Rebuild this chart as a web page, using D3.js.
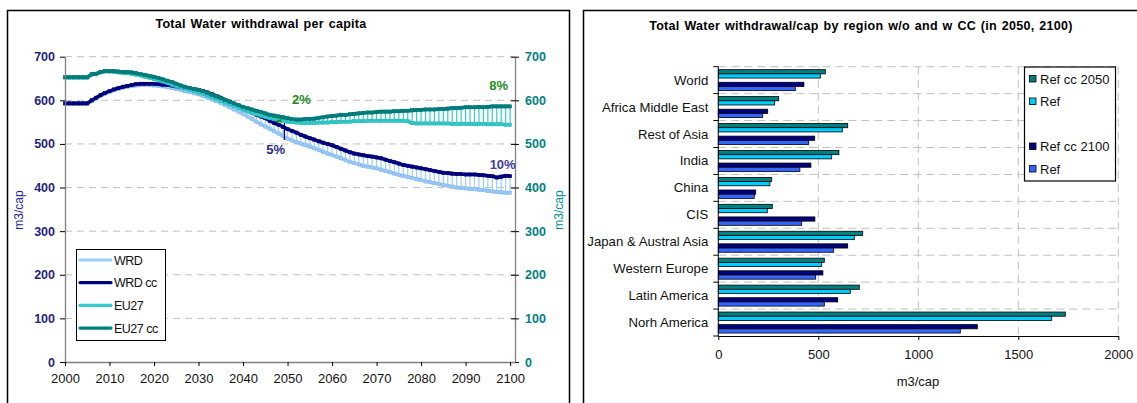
<!DOCTYPE html>
<html><head><meta charset="utf-8">
<script src="https://cdn.jsdelivr.net/npm/d3@7/dist/d3.min.js"></script>
<style>
body{margin:0;background:#fff;}
svg{display:block;font-family:"Liberation Sans",Arial,sans-serif;}
</style></head>
<body>
<svg id="chart" width="1137" height="403"></svg>
<script>
// ---------- Left chart data ----------
const years = d3.range(2000, 2101);
const wrd = [
592,592,592,592,592,592,598,604,610,615,
619,623,626,629,631,633,634,635,635,635,
634,633,632,630,628,626,624,621,619,616,
614,610,606,602,598,594,589,584,579,574,
569,563,557,551,545,540,535,529,524,518,
512,508,504,501,497,494,490,486,482,478,
475,471,467,463,459,456,453,450,448,446,
444,441,438,435,432,429,427,424,422,419,
417,414,412,410,408,406,404,402,400,399,
398,397,396,395,394,392,391,390,389,388,
388];
const wrdCC = [
593,593,593,593,593,593,600,606,612,617,
621,625,628,631,633,635,637,638,638,638,
638,637,636,635,634,632,630,629,627,626,
624,621,618,614,610,606,601,597,592,586,
581,576,572,567,563,559,553,548,544,539,
534,530,526,521,517,513,510,506,503,500,
497,493,489,485,481,478,476,474,472,471,
469,467,464,461,458,455,452,450,448,446,
444,442,440,438,436,434,433,432,431,431,
430,430,430,429,428,427,426,423,425,427,
426];
const eu27 = [
652,652,652,652,652,652,659,660,664,666,
666,665,664,663,662,661,659,657,654,652,
649,646,643,640,636,633,630,627,624,621,
618,615,611,607,603,599,595,591,587,583,
579,575,572,568,565,562,559,557,555,553,
551,550,549,548,548,548,548,549,549,549,
550,550,551,551,551,552,552,552,553,553,
553,553,553,553,553,553,553,552,548,547,
547,547,547,547,547,547,547,546,546,546,
546,546,545,546,546,545,545,545,545,544,
544];
const eu27CC = [
653,653,653,653,653,653,660,661,665,667,
667,667,666,665,665,664,662,660,658,656,
654,651,648,645,642,638,634,631,628,626,
624,621,617,613,609,605,601,597,593,589,
585,582,579,576,573,570,567,565,563,561,
559,557,556,556,557,557,558,560,561,563,
564,565,567,566,568,569,570,571,572,572,
573,574,574,574,575,575,576,576,577,578,
578,579,579,579,580,580,581,582,582,583,
584,584,584,585,584,585,586,586,586,586,
586];
const leftTicksY = [0,100,200,300,400,500,600,700];
const leftTicksX = [2000,2010,2020,2030,2040,2050,2060,2070,2080,2090,2100];
const lineSeries = [
  {name:"WRD", values:wrd, color:"#99CCFF"},
  {name:"WRD cc", values:wrdCC, color:"#000080"},
  {name:"EU27", values:eu27, color:"#33CCCC"},
  {name:"EU27 cc", values:eu27CC, color:"#008080"}
];
const annotations = [
  {text:"5%", year:2045.2, value:477, color:"#2a2a8c"},
  {text:"2%", year:2051.0, value:591, color:"#1e8c1e"},
  {text:"8%", year:2095.3, value:624, color:"#1e8c1e"},
  {text:"10%", year:2095.4, value:443, color:"#3d3da0"}
];

// ---------- Right chart data ----------
const regions = ["World","Africa Middle East","Rest of Asia","India","China","CIS","Japan & Austral Asia","Western Europe","Latin America","Norh America"];
const refCC2050 = [535,302,647,603,267,270,722,530,705,1735];
const ref2050   = [510,282,620,567,258,245,680,517,660,1667];
const refCC2100 = [428,247,482,463,187,483,647,523,597,1295];
const ref2100   = [385,222,452,408,180,417,577,487,530,1210];
const rightTicksX = [0,500,1000,1500,2000];
const barSeries = [
  {key:"cc2050", label:"Ref cc 2050", values:refCC2050, color:"#008080"},
  {key:"ref2050", label:"Ref", values:ref2050, color:"#00CCFF"},
  {key:"gap", label:"", values:null, color:null},
  {key:"cc2100", label:"Ref cc 2100", values:refCC2100, color:"#000080"},
  {key:"ref2100", label:"Ref", values:ref2100, color:"#3366FF"}
];

const svg = d3.select("#chart");
const FONT = '"Liberation Sans",Arial,sans-serif';

// ================= LEFT CHART =================
svg.append("rect").attr("x",7.5).attr("y",10.5).attr("width",562).attr("height",420)
  .attr("fill","#fff").attr("stroke","#000").attr("stroke-width",1.5);

const L = {left:65, right:515, top:56.7, bottom:362};
const x = d3.scaleLinear().domain([2000,2101.1]).range([L.left, L.right]);
const y = d3.scaleLinear().domain([0,700]).range([L.bottom, L.top]);
const gL = svg.append("g");

// gridlines
gL.append("g").selectAll("line").data(leftTicksY.filter(d=>d>0)).join("line")
  .attr("x1",L.left).attr("x2",L.right).attr("y1",d=>y(d)).attr("y2",d=>y(d))
  .attr("stroke","#c0c0c0").attr("stroke-dasharray","7,5").attr("stroke-width",1);

// drop lines
function drops(a,b,color){
  gL.append("g").selectAll("line").data(years).join("line")
    .attr("x1",(d)=>x(d)).attr("x2",(d)=>x(d))
    .attr("y1",(d,i)=>y(a[i])).attr("y2",(d,i)=>y(b[i]))
    .attr("stroke",color).attr("stroke-width",1.2);
}
drops(wrd, wrdCC, "#99CCFF");
drops(eu27, eu27CC, "#33CCCC");

const line = d3.line().x((d,i)=>x(years[i])).y(d=>y(d));
lineSeries.forEach(s=>{
  gL.append("path").attr("d",line(s.values)).attr("fill","none")
    .attr("stroke",s.color).attr("stroke-width",3.6).attr("stroke-linejoin","round");
  gL.append("g").selectAll("rect").data(s.values).join("rect")
    .attr("x",(d,i)=>x(years[i])-1.6).attr("y",d=>y(d)-1.6).attr("width",3.2).attr("height",3.2)
    .attr("fill",s.color).attr("stroke",d3.color(s.color).darker(0.4)).attr("stroke-width",0.5);
});

// 2049 marker line
gL.append("line").attr("x1",x(2049.3)).attr("x2",x(2049.3)).attr("y1",y(548)).attr("y2",y(509))
  .attr("stroke","#000080").attr("stroke-width",1.3);
gL.append("path").attr("d",`M${x(2047)},${y(551)} L${x(2048.6)},${y(557)} L${x(2048.6)},${y(549)} Z`)
  .attr("fill","#1e8c1e");

// axes
const axL = d3.axisLeft(y).tickValues(leftTicksY).tickSize(5).tickSizeOuter(0).tickPadding(5);
const gAxL = gL.append("g").attr("transform",`translate(${L.left},0)`).call(axL);
gAxL.select(".domain").attr("stroke","#808080").attr("stroke-width",1.3);
gAxL.selectAll(".tick line").attr("stroke","#000");
gAxL.selectAll("text").attr("font-family",FONT).attr("font-size",12.5).attr("font-weight","bold").attr("fill","#1f1f80");

const axR = d3.axisRight(y).tickValues(leftTicksY).tickSize(4).tickSizeOuter(0).tickPadding(6);
const gAxR = gL.append("g").attr("transform",`translate(${L.right},0)`).call(axR);
gAxR.select(".domain").attr("stroke","#808080").attr("stroke-width",1.3);
gAxR.selectAll(".tick line").attr("stroke","#000").attr("x1",-4);
gAxR.selectAll("text").attr("font-family",FONT).attr("font-size",12.5).attr("font-weight","bold").attr("fill","#008080");

const axB = d3.axisBottom(x).tickValues(leftTicksX).tickFormat(d3.format("d")).tickSize(4).tickSizeOuter(0).tickPadding(8);
const gAxB = gL.append("g").attr("transform",`translate(0,${L.bottom})`).call(axB);
gAxB.select(".domain").attr("stroke","#808080").attr("stroke-width",1.3);
gAxB.selectAll(".tick line").attr("stroke","#000");
gAxB.selectAll("text").attr("font-family",FONT).attr("font-size",13).attr("fill","#111");

// axis titles
gL.append("text").attr("transform",`translate(23,210) rotate(-90)`).attr("text-anchor","middle")
  .attr("font-size",12).attr("fill","#1f1f99").text("m3/cap");
gL.append("text").attr("transform",`translate(563,210) rotate(-90)`).attr("text-anchor","middle")
  .attr("font-size",12).attr("fill","#009090").text("m3/cap");

// title
gL.append("text").attr("x",261).attr("y",28).attr("text-anchor","middle")
  .attr("font-size",12.5).attr("font-weight","bold").attr("fill","#000").attr("word-spacing",1).attr("letter-spacing",0.3)
  .text("Total Water withdrawal per capita");

// annotations
annotations.forEach(a=>{
  gL.append("text").attr("x",x(a.year)).attr("y",y(a.value)).attr("font-size",13).attr("font-weight","bold")
    .attr("fill",a.color).text(a.text);
});

// legend
const lg = gL.append("g");
lg.append("rect").attr("x",76.5).attr("y",249.5).attr("width",89).attr("height",91)
  .attr("fill","#fff").attr("stroke","#000").attr("stroke-width",1);
lineSeries.forEach((s,i)=>{
  const yy = 260 + i*22.7;
  lg.append("line").attr("x1",80).attr("x2",111).attr("y1",yy).attr("y2",yy)
    .attr("stroke",s.color).attr("stroke-width",3.2).attr("stroke-linecap","round");
  lg.append("text").attr("x",114).attr("y",yy+4.5).attr("font-size",12.5).attr("fill","#111")
    .attr("letter-spacing",-0.5).text(s.name);
});

// ================= RIGHT CHART =================
svg.append("rect").attr("x",583.5).attr("y",10.5).attr("width",600).attr("height",420)
  .attr("fill","#fff").attr("stroke","#000").attr("stroke-width",1.5);

const R = {left:718.3, right:1118.3, top:66.7, bottom:336};
const xr = d3.scaleLinear().domain([0,2000]).range([R.left,R.right]);
const yb = d3.scaleBand().domain(regions).range([R.top,R.bottom]).paddingInner(0.22).paddingOuter(0.11);
const ysub = d3.scaleBand().domain(barSeries.map(s=>s.key)).range([0,yb.bandwidth()]).padding(0);
const gR = svg.append("g");

// gridlines
const step = yb.step();
const bounds = d3.range(1,regions.length).map(i=>R.top + i*step);
gR.append("g").selectAll("line").data([R.top].concat(bounds)).join("line")
  .attr("x1",R.left).attr("x2",R.right).attr("y1",d=>d).attr("y2",d=>d)
  .attr("stroke","#c0c0c0").attr("stroke-dasharray","8,5");
gR.append("g").selectAll("line").data(rightTicksX.filter(d=>d>0)).join("line")
  .attr("x1",d=>xr(d)).attr("x2",d=>xr(d)).attr("y1",R.top).attr("y2",R.bottom)
  .attr("stroke","#c0c0c0").attr("stroke-dasharray","8,5");

// bars
barSeries.filter(s=>s.values).forEach(s=>{
  gR.append("g").selectAll("rect").data(regions).join("rect")
    .attr("x",xr(0)).attr("y",(d)=>yb(d)+ysub(s.key))
    .attr("width",(d,i)=>xr(s.values[i])-xr(0)).attr("height",ysub.bandwidth())
    .attr("fill",s.color).attr("stroke","#000").attr("stroke-width",0.8);
});

// axes
const ayR = gR.append("g").attr("transform",`translate(${R.left},0)`);
ayR.append("line").attr("x1",0).attr("x2",0).attr("y1",R.top).attr("y2",R.bottom).attr("stroke","#000").attr("stroke-width",1);
ayR.selectAll("line.tk").data([R.top].concat(bounds,[R.bottom])).join("line").attr("class","tk")
  .attr("x1",-5).attr("x2",0).attr("y1",d=>d).attr("y2",d=>d).attr("stroke","#000");
ayR.selectAll("text").data(regions).join("text")
  .attr("x",-10).attr("y",d=>yb(d)+yb.bandwidth()/2+4.5).attr("text-anchor","end")
  .attr("font-size",13.2).attr("fill","#111").text(d=>d);

const axRB = d3.axisBottom(xr).tickValues(rightTicksX).tickFormat(d3.format("d")).tickSize(4).tickSizeOuter(0).tickPadding(10);
const gAxRB = gR.append("g").attr("transform",`translate(0,${R.bottom})`).call(axRB);
gAxRB.select(".domain").attr("stroke","#000");
gAxRB.selectAll("text").attr("font-family",FONT).attr("font-size",13).attr("fill","#111");
gR.append("text").attr("x",918).attr("y",386).attr("text-anchor","middle").attr("font-size",13).attr("fill","#111").text("m3/cap");

// title
gR.append("text").attr("x",861).attr("y",30).attr("text-anchor","middle")
  .attr("font-size",12.5).attr("font-weight","bold").attr("fill","#000").attr("letter-spacing",0.3).attr("word-spacing",1)
  .text("Total Water withdrawal/cap by region w/o and w CC (in 2050, 2100)");

// legend
const lgR = gR.append("g");
lgR.append("rect").attr("x",1024.5).attr("y",67).attr("width",91).attr("height",114)
  .attr("fill","#fff").attr("stroke","#000").attr("stroke-width",1.2);
const legYs = [79, 101.5, 124, 146.5, 169];
barSeries.forEach((s,i)=>{
  if(!s.values) return;
  lgR.append("rect").attr("x",1029.5).attr("y",legYs[i]-3.5).attr("width",6.5).attr("height",6.5)
    .attr("fill",s.color).attr("stroke","#000").attr("stroke-width",0.8);
  lgR.append("text").attr("x",1040).attr("y",legYs[i]+4.5).attr("font-size",13).attr("fill","#111").text(s.label);
});
</script>
</body></html>
